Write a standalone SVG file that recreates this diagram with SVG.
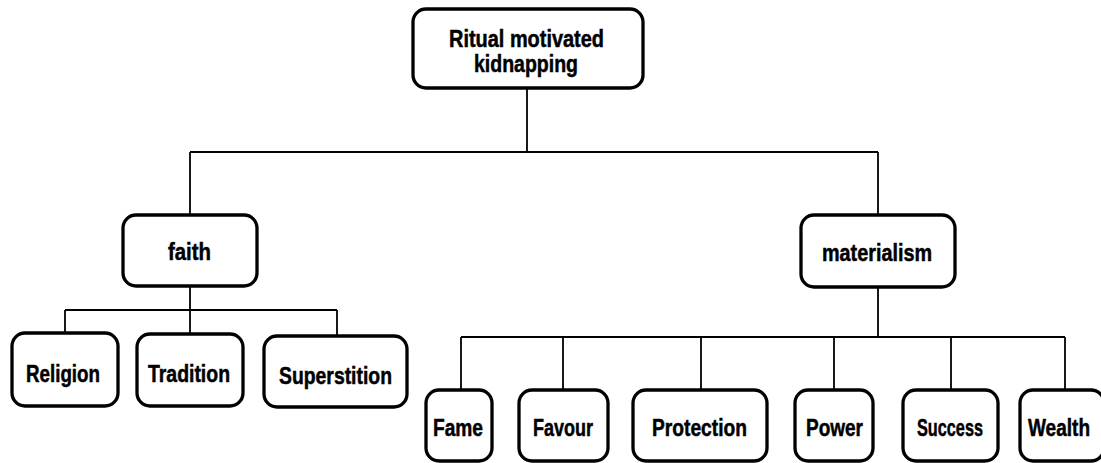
<svg xmlns="http://www.w3.org/2000/svg" width="1101" height="463" viewBox="0 0 1101 463">
<style>
.box{fill:#fff;stroke:#000;stroke-width:3.3}
.lbl{font-family:"Liberation Sans",Arial,sans-serif;font-weight:bold;font-size:24px;fill:#000;stroke:#000;stroke-width:0.5;text-anchor:middle}
.con{fill:none;stroke:#000;stroke-width:1.8}
</style>
<rect width="1101" height="463" fill="#fff"/>
<g id="connectors" class="con">
<path d="M527 88V152M190 152H878M190 152V215M878 152V215"/>
<path d="M190 286V334M65 310H337M65 310V333M337 310V336"/>
<path d="M878 287V337M461 337H1065M461 337V390M563 337V390M701 337V390M834 337V390M951 337V390M1065 337V390"/>
</g>
<g id="root"><rect class="box" x="413" y="9" width="230" height="79" rx="13"/><text class="lbl" x="526.5" y="47" textLength="155" lengthAdjust="spacingAndGlyphs">Ritual motivated</text><text class="lbl" x="526" y="72" textLength="104" lengthAdjust="spacingAndGlyphs">kidnapping</text></g>
<g id="faith"><rect class="box" x="123" y="215" width="134" height="71" rx="13"/><text class="lbl" x="189.5" y="260" textLength="43" lengthAdjust="spacingAndGlyphs">faith</text></g>
<g id="materialism"><rect class="box" x="801" y="215" width="154" height="72" rx="13"/><text class="lbl" x="877" y="261" textLength="110" lengthAdjust="spacingAndGlyphs">materialism</text></g>
<g id="religion"><rect class="box" x="12" y="333" width="106" height="73" rx="13"/><text class="lbl" x="63" y="382" textLength="74" lengthAdjust="spacingAndGlyphs">Religion</text></g>
<g id="tradition"><rect class="box" x="137" y="334" width="106" height="72" rx="13"/><text class="lbl" x="189" y="382" textLength="82" lengthAdjust="spacingAndGlyphs">Tradition</text></g>
<g id="superstition"><rect class="box" x="264" y="336" width="143" height="71" rx="13"/><text class="lbl" x="335.5" y="384" textLength="113" lengthAdjust="spacingAndGlyphs">Superstition</text></g>
<g id="fame"><rect class="box" x="426" y="390" width="66" height="71" rx="13"/><text class="lbl" x="458" y="436" textLength="50" lengthAdjust="spacingAndGlyphs">Fame</text></g>
<g id="favour"><rect class="box" x="519" y="390" width="89" height="71" rx="13"/><text class="lbl" x="563" y="436" textLength="60" lengthAdjust="spacingAndGlyphs">Favour</text></g>
<g id="protection"><rect class="box" x="633" y="390" width="134" height="71" rx="13"/><text class="lbl" x="699.5" y="436" textLength="95" lengthAdjust="spacingAndGlyphs">Protection</text></g>
<g id="power"><rect class="box" x="795" y="390" width="78" height="71" rx="13"/><text class="lbl" x="834.5" y="436" textLength="57" lengthAdjust="spacingAndGlyphs">Power</text></g>
<g id="success"><rect class="box" x="903" y="390" width="95" height="71" rx="13"/><text class="lbl" x="950" y="436" textLength="66" lengthAdjust="spacingAndGlyphs">Success</text></g>
<g id="wealth"><rect class="box" x="1020" y="390" width="84" height="71" rx="13"/><text class="lbl" x="1059" y="436" textLength="62" lengthAdjust="spacingAndGlyphs">Wealth</text></g>
</svg>
